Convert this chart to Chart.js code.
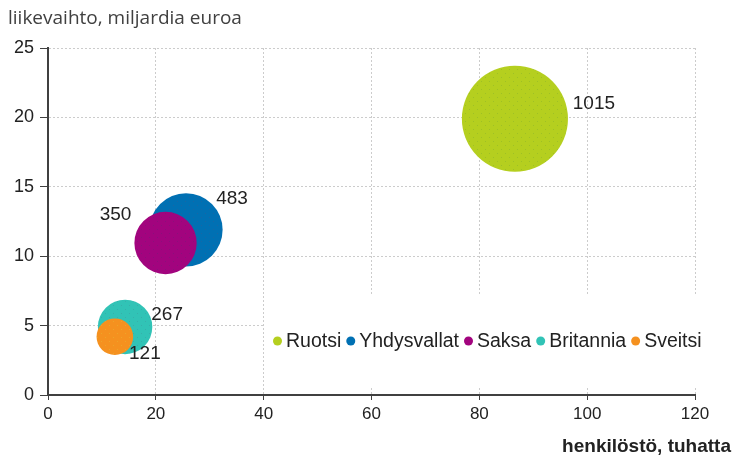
<!DOCTYPE html>
<html>
<head>
<meta charset="utf-8">
<script src="https://cdn.jsdelivr.net/npm/chart.js@4.4.0/dist/chart.umd.min.js"></script>
<style>
    html, body { margin: 0; padding: 0; background: #fff; }
    #wrap { width: 735px; height: 463px; }
</style>
</head>
<body>
<div id="wrap"><canvas id="bubbleChart"></canvas></div>
<script>
// Chart data
const countries = ['Ruotsi', 'Yhdysvallat', 'Saksa', 'Britannia', 'Sveitsi'];
const staff = [86.6, 25.6, 21.8, 14.3, 12.4];        // henkilöstö, tuhatta
const turnover = [19.9, 11.9, 10.95, 4.9, 4.2];      // liikevaihto, miljardia euroa
const companies = [1015, 483, 350, 267, 121];        // bubble size / label
const xTicks = [0, 20, 40, 60, 80, 100, 120];
const yTicks = [0, 5, 10, 15, 20, 25];

const colors = ['#b5cf1f', '#0070b3', '#a2047e', '#31c3b6', '#f5911f'];
const dotColors = ['#8fb52a', '#2a5f9a', '#7a1a7a', '#3aa4a4', '#e8b030'];
// label offsets from bubble centre (px)
const labelOffsets = [[79, -15], [46, -31], [-50, -28], [42, -12], [30, 17]];

const tickFont = { family: 'Liberation Sans, Arial, sans-serif', size: 17 };

// stippled fill like the original
function makePattern(base, dot) {
    const c = document.createElement('canvas');
    c.width = 8; c.height = 8;
    const g = c.getContext('2d');
    g.fillStyle = base;
    g.fillRect(0, 0, 8, 8);
    g.fillStyle = dot;
    g.globalAlpha = 0.6;
    g.fillRect(1, 1, 1, 1);
    g.fillRect(5, 5, 1, 1);
    return g.createPattern(c, 'repeat');
}

// Titles, legend box and bubble labels
const decorPlugin = {
    id: 'decor',
    beforeDatasetsDraw(chart) {
        const ctx = chart.ctx;
        ctx.save();
        ctx.fillStyle = '#fff';
        ctx.fillRect(265, 296, 440, 92);
        ctx.restore();
    },
    afterDatasetsDraw(chart) {
        const ctx = chart.ctx;
        const xs = chart.scales.x, ys = chart.scales.y;
        ctx.save();
        ctx.textBaseline = 'middle';

        // bubble labels
        ctx.font = '19px "Liberation Sans", Arial, sans-serif';
        ctx.fillStyle = '#222';
        ctx.textAlign = 'center';
        companies.forEach(function(v, i) {
            const cx = xs.getPixelForValue(staff[i]);
            const cy = ys.getPixelForValue(turnover[i]);
            ctx.fillText(String(v), cx + labelOffsets[i][0], cy + labelOffsets[i][1]);
        });

        // legend
        ctx.textAlign = 'left';
        ctx.font = '19.5px "Liberation Sans", Arial, sans-serif';
        let lx = 273;
        const ly = 341;
        chart.data.datasets.forEach(function(ds, i) {
            ctx.fillStyle = colors[i];
            ctx.beginPath();
            ctx.arc(lx + 4.5, ly, 4.5, 0, Math.PI * 2);
            ctx.fill();
            lx += 13;
            ctx.fillStyle = '#222';
            ctx.fillText(ds.label, lx, ly + 1);
            lx += ctx.measureText(ds.label).width + 5;
        });

        // axis titles
        ctx.fillStyle = '#404040';
        ctx.font = '19px "Open Sans", sans-serif';
        ctx.fillText('liikevaihto, miljardia euroa', 8, 19);
        ctx.fillStyle = '#222';
        ctx.textAlign = 'right';
        ctx.font = 'bold 19px "Liberation Sans Narrow", "Liberation Sans", Arial, sans-serif';
        ctx.fillText('henkilöstö, tuhatta', 731, 447);
        ctx.restore();
    }
};

function initializeChart() {
    const ctxBubble = document.getElementById('bubbleChart');
    const datasets = countries.map(function(name, i) {
        return {
            label: name,
            data: [{ x: staff[i], y: turnover[i] }],
            backgroundColor: makePattern(colors[i], dotColors[i]),
            borderWidth: 0,
            radius: 1.665 * Math.sqrt(companies[i]),
            order: countries.length - i
        };
    });

    new Chart(ctxBubble, {
        type: 'bubble',
        data: { datasets: datasets },
        options: {
            responsive: true,
            maintainAspectRatio: false,
            animation: false,
            events: [],
            layout: { autoPadding: false, padding: { left: 0, top: 48, right: 40, bottom: 0 } },
            scales: {
                x: {
                    type: 'linear',
                    min: 0,
                    max: 120,
                    afterBuildTicks: function(scale) {
                        scale.ticks = xTicks.map(function(v) { return { value: v }; });
                    },
                    afterFit: function(scale) { scale.height = 68; },
                    ticks: { color: '#222', font: tickFont, padding: 4, maxRotation: 0 },
                    grid: { color: '#cccccc', tickColor: '#404040', tickLength: 5, lineWidth: 1 },
                    border: { color: '#404040', width: 2, dash: [2, 2] }
                },
                y: {
                    type: 'linear',
                    min: 0,
                    max: 25,
                    afterBuildTicks: function(scale) {
                        scale.ticks = yTicks.map(function(v) { return { value: v }; });
                    },
                    afterFit: function(scale) { scale.width = 48; },
                    ticks: { color: '#222', font: { family: tickFont.family, size: 18 }, padding: 6 },
                    grid: { color: '#cccccc', tickColor: '#404040', tickLength: 8, lineWidth: 1 },
                    border: { color: '#404040', width: 2, dash: [2, 2] }
                }
            },
            plugins: {
                legend: { display: false },
                tooltip: { enabled: false }
            }
        },
        plugins: [decorPlugin]
    });
}

document.addEventListener('DOMContentLoaded', function() {
    initializeChart();
});
</script>
</body>
</html>
